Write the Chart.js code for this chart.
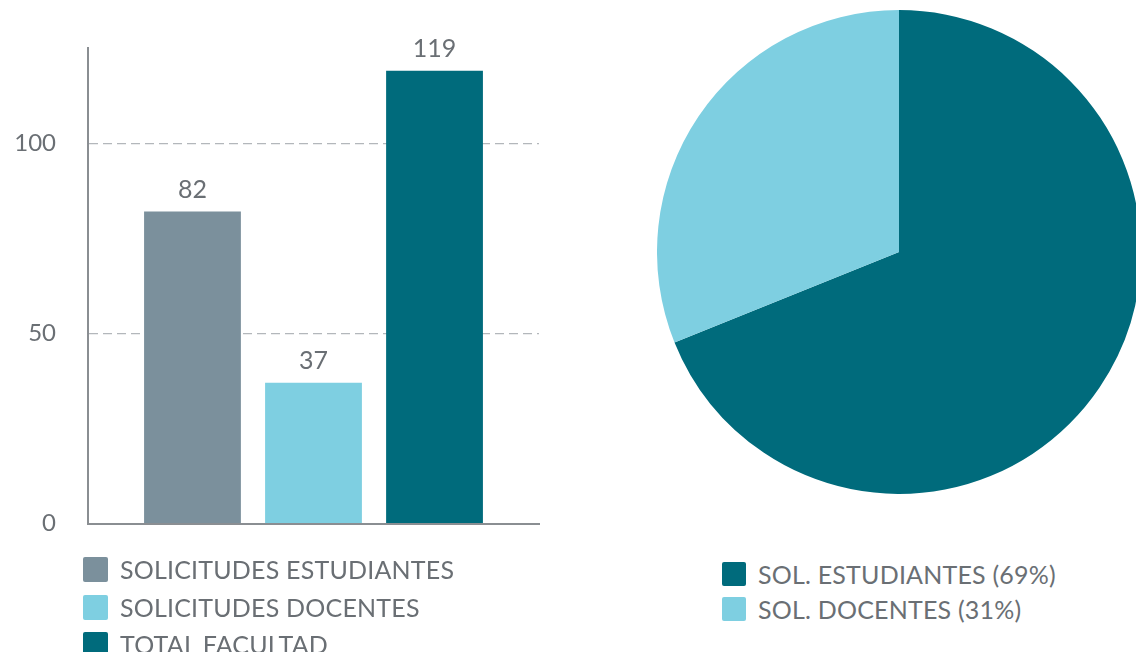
<!DOCTYPE html>
<html>
<head>
<meta charset="utf-8">
<script src="https://cdn.jsdelivr.net/npm/chart.js@4.4.0/dist/chart.umd.min.js"></script>
<style>
  body { margin: 0; width: 1136px; height: 652px; overflow: hidden; background: #fff; font-family: Lato, sans-serif; }
  .box-bar { position: absolute; left: 0; top: 0; width: 560px; height: 570px; }
  .box-pie { position: absolute; left: 657px; top: 10px; width: 484px; height: 484px; }
  .legend { position: absolute; }
  .legend1 { left: 83px; top: 557px; }
  .legend2 { left: 722px; top: 562px; }
  .legend-item { display: flex; align-items: center; height: 25px; margin-bottom: 12.5px; }
  .legend2 .legend-item { height: 24px; margin-bottom: 11px; }
  .circle { width: 25px; height: 25px; border-radius: 2px; margin-right: 12px; flex: none; }
  .legend2 .circle { width: 24px; height: 24px; margin-right: 12px; }
  .legend-desc { font-size: 25px; line-height: 25px; color: #6a6f74; letter-spacing: 0.2px; white-space: nowrap; }
</style>
</head>
<body>
<div class="box-bar"><canvas class="chart1"></canvas></div>
<div class="box-pie"><canvas class="chart2"></canvas></div>
<div class="legend legend1"></div>
<div class="legend legend2"></div>
<script>
const categories = ["SOLICITUDES ESTUDIANTES", "SOLICITUDES DOCENTES", "TOTAL FACULTAD"];
const values = [82, 37, 119];
const barColors = ["#7b909c", "#7ecfe1", "#006b7c"];
const yTicks = [0, 50, 100];

const pieLabels = ["SOL. ESTUDIANTES (69%)", "SOL. DOCENTES (31%)"];
const pieValues = [82, 37];
const pieColors = ["#006b7c", "#7ecfe1"];

Chart.defaults.font.family = "Lato";

// numbers on top of the bars
const barValues = {
  id: "barValues",
  afterDatasetsDraw(chart) {
    const ctx = chart.ctx;
    ctx.save();
    ctx.font = "25px Lato";
    ctx.fillStyle = "#6a6f74";
    ctx.textAlign = "center";
    ctx.textBaseline = "alphabetic";
    chart.data.datasets.forEach((ds, i) => {
      chart.getDatasetMeta(i).data.forEach((bar, j) => {
        ctx.fillText(ds.data[j], bar.x, bar.y - 14);
      });
    });
    ctx.restore();
  },
};

const chart1 = document.querySelector(".chart1");
new Chart(chart1, {
  type: "bar",
  data: {
    labels: [""],
    datasets: categories.map((c, i) => ({
      label: c,
      data: [values[i]],
      backgroundColor: barColors[i],
    })),
  },
  options: {
    responsive: true,
    maintainAspectRatio: false,
    animation: false,
    categoryPercentage: 0.805,
    barPercentage: 0.8,
    layout: { padding: { top: 48, right: 21, bottom: 17, left: 1 } },
    scales: {
      x: {
        ticks: { display: false },
        grid: { display: false },
        border: { display: true, color: "#8a8e92", width: 2 },
        afterFit: (s) => { s.height = 0; },
      },
      y: {
        min: 0,
        max: 125,
        afterBuildTicks: (s) => { s.ticks = yTicks.map((v) => ({ value: v })); },
        ticks: { padding: 32, color: "#6a6f74", font: { size: 24 } },
        grid: { color: "#b3b7bb", lineWidth: 1.2, drawTicks: false },
        border: { display: true, color: "#8a8e92", width: 2, dash: [9, 5] },
        afterFit: (s) => { s.width = 87; },
      },
    },
    plugins: {
      legend: { display: false },
      tooltip: { enabled: false },
    },
  },
  plugins: [barValues],
});

const chart2 = document.querySelector(".chart2");
new Chart(chart2, {
  type: "pie",
  data: {
    labels: pieLabels,
    datasets: [{ data: pieValues, backgroundColor: pieColors, borderWidth: 0 }],
  },
  options: {
    responsive: true,
    maintainAspectRatio: false,
    animation: false,
    plugins: {
      legend: { display: false },
      tooltip: { enabled: false },
    },
  },
});

const chart1Legend = document.querySelector(".legend1");
categories.forEach((c, i) => {
  chart1Legend.innerHTML += `
  <div class="legend-item">
    <div class="circle" style="background-color: ${barColors[i]}"></div>
    <div class="legend-desc">${c}</div>
  </div>`;
});

const chart2Legend = document.querySelector(".legend2");
pieLabels.forEach((c, i) => {
  chart2Legend.innerHTML += `
  <div class="legend-item">
    <div class="circle" style="background-color: ${pieColors[i]}"></div>
    <div class="legend-desc">${c}</div>
  </div>`;
});
</script>
</body>
</html>
